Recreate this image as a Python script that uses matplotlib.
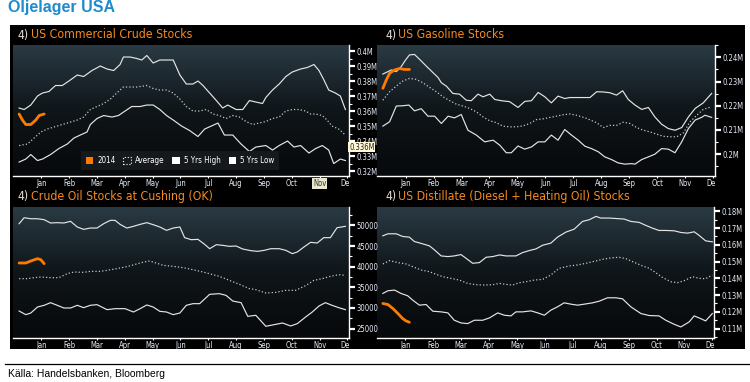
import os
import numpy as np
import matplotlib
matplotlib.use("Agg")
import matplotlib.pyplot as plt
from matplotlib import font_manager
from matplotlib.font_manager import FontProperties
from matplotlib.colors import LinearSegmentedColormap
from matplotlib.lines import Line2D
from matplotlib.patches import Patch, Rectangle
from matplotlib.ticker import MultipleLocator
from matplotlib.transforms import Bbox, TransformedBbox, blended_transform_factory

# %%
# data (x = month, Jan = 1)
months = ['Jan', 'Feb', 'Mar', 'Apr', 'May', 'Jun', 'Jul', 'Aug', 'Sep', 'Oct', 'Nov', 'Dec']
month_pos = [1, 2, 3, 4, 5, 6, 7, 8, 9, 10, 11, 12]
legend_labels = ['2014', 'Average', '5 Yrs High', '5 Yrs Low']

# US commercial crude stocks (M barrels)
crude_hi_x = [0.20, 0.38, 0.62, 0.86, 1.04, 1.27, 1.51, 1.75, 1.99, 2.29, 2.52, 2.82, 3.12, 3.36, 3.60, 3.83, 3.95, 4.19,
              4.43, 4.61, 4.79, 5.02, 5.26, 5.50, 5.74, 5.98, 6.21, 6.45, 6.63, 6.81, 7.05, 7.29, 7.52, 7.70, 8.00, 8.24,
              8.48, 8.71, 8.95, 9.07, 9.31, 9.55, 9.79, 10.02, 10.32, 10.56, 10.80, 10.98, 11.15, 11.33, 11.57, 11.75, 11.93]
crude_hi_y = [0.362, 0.361, 0.364, 0.370, 0.372, 0.373, 0.377, 0.377, 0.380, 0.384, 0.383, 0.387, 0.390, 0.388, 0.387,
              0.391, 0.396, 0.396, 0.395, 0.394, 0.397, 0.392, 0.394, 0.394, 0.394, 0.384, 0.378, 0.378, 0.380, 0.377,
              0.372, 0.367, 0.362, 0.364, 0.361, 0.361, 0.367, 0.366, 0.365, 0.369, 0.374, 0.378, 0.383, 0.386, 0.388,
              0.389, 0.391, 0.387, 0.381, 0.374, 0.372, 0.370, 0.361]
crude_avg_x = [0.20, 0.50, 0.74, 0.98, 1.21, 1.57, 1.93, 2.29, 2.52, 2.76, 3.00, 3.24, 3.48, 3.71, 3.95, 4.19, 4.43, 4.79,
               5.02, 5.26, 5.50, 5.74, 5.98, 6.21, 6.45, 6.69, 6.93, 7.17, 7.40, 7.64, 7.88, 8.12, 8.36, 8.60, 8.83, 9.07,
               9.31, 9.55, 9.79, 10.02, 10.26, 10.50, 10.68, 10.86, 11.10, 11.27, 11.45, 11.69, 11.93]
crude_avg_y = [0.337, 0.338, 0.342, 0.346, 0.348, 0.350, 0.352, 0.354, 0.356, 0.361, 0.363, 0.365, 0.368, 0.372, 0.376,
               0.376, 0.376, 0.377, 0.375, 0.374, 0.374, 0.372, 0.368, 0.363, 0.360, 0.360, 0.361, 0.358, 0.357, 0.355,
               0.357, 0.356, 0.353, 0.351, 0.352, 0.353, 0.355, 0.356, 0.360, 0.361, 0.361, 0.360, 0.358, 0.358, 0.357,
               0.354, 0.350, 0.348, 0.344]
crude_lo_x = [0.20, 0.44, 0.62, 0.86, 1.04, 1.33, 1.63, 1.93, 2.17, 2.40, 2.64, 2.76, 3.00, 3.24, 3.54, 3.77, 4.01, 4.25,
              4.55, 4.79, 5.02, 5.26, 5.50, 5.74, 6.04, 6.33, 6.63, 6.87, 7.11, 7.35, 7.58, 7.88, 8.18, 8.48, 8.71, 9.07,
              9.31, 9.55, 9.85, 10.08, 10.32, 10.62, 10.86, 11.10, 11.33, 11.51, 11.75, 11.93]
crude_lo_y = [0.326, 0.328, 0.331, 0.327, 0.328, 0.331, 0.335, 0.338, 0.342, 0.344, 0.346, 0.351, 0.355, 0.357, 0.356,
              0.357, 0.360, 0.363, 0.363, 0.364, 0.364, 0.361, 0.357, 0.354, 0.350, 0.347, 0.343, 0.348, 0.350, 0.352,
              0.344, 0.344, 0.338, 0.333, 0.336, 0.337, 0.334, 0.337, 0.340, 0.336, 0.337, 0.332, 0.335, 0.337, 0.334,
              0.325, 0.328, 0.327]
crude_14_x = [0.20, 0.32, 0.44, 0.62, 0.80, 0.92, 1.10]
crude_14_y = [0.358, 0.354, 0.351, 0.351, 0.354, 0.357, 0.358]
crude_ticks = [0.32, 0.33, 0.34, 0.35, 0.36, 0.37, 0.38, 0.39, 0.40]
crude_tick_labels = ['0.32M', '0.33M', '0.34M', '0.35M', '0.36M', '0.37M', '0.38M', '0.39M', '0.4M']
crude_last = 0.336

# US gasoline stocks (M barrels)
gas_hi_x = [0.19, 0.37, 0.49, 0.67, 0.84, 1.00, 1.14, 1.32, 1.50, 1.74, 1.98, 2.16, 2.28, 2.46, 2.69, 2.93, 3.17, 3.35,
            3.59, 3.77, 4.01, 4.19, 4.42, 4.72, 5.02, 5.26, 5.50, 5.74, 5.98, 6.21, 6.45, 6.69, 6.87, 7.11, 7.59, 7.83,
            8.07, 8.30, 8.54, 8.76, 8.96, 9.20, 9.44, 9.68, 9.91, 10.15, 10.39, 10.63, 10.87, 11.11, 11.35, 11.64, 11.94]
gas_hi_y = [0.2331, 0.2341, 0.2348, 0.2341, 0.2361, 0.2389, 0.2410, 0.2412, 0.2392, 0.2364, 0.2337, 0.2317, 0.2295,
            0.2281, 0.2251, 0.2248, 0.2223, 0.2221, 0.2248, 0.2237, 0.2248, 0.2226, 0.2221, 0.2217, 0.2193, 0.2218,
            0.2221, 0.2255, 0.2237, 0.2212, 0.2240, 0.2230, 0.2234, 0.2234, 0.2234, 0.2258, 0.2257, 0.2254, 0.2244,
            0.2262, 0.2226, 0.2203, 0.2185, 0.2193, 0.2154, 0.2124, 0.2106, 0.2099, 0.2110, 0.2154, 0.2189, 0.2212,
            0.2251]
gas_avg_x = [0.19, 0.43, 0.67, 0.90, 1.14, 1.38, 1.62, 1.86, 2.10, 2.34, 2.58, 2.81, 3.05, 3.29, 3.53, 3.77, 4.01, 4.25,
             4.48, 4.72, 4.96, 5.20, 5.44, 5.68, 5.92, 6.16, 6.39, 6.63, 6.87, 7.11, 7.47, 7.83, 8.07, 8.30, 8.54, 8.78,
             9.02, 9.26, 9.50, 9.74, 9.97, 10.21, 10.45, 10.69, 10.93, 11.17, 11.41, 11.64, 11.94]
gas_avg_y = [0.2223, 0.2258, 0.2281, 0.2302, 0.2313, 0.2309, 0.2295, 0.2276, 0.2258, 0.2237, 0.2221, 0.2207, 0.2199,
             0.2189, 0.2175, 0.2154, 0.2138, 0.2130, 0.2116, 0.2113, 0.2113, 0.2117, 0.2127, 0.2143, 0.2146, 0.2152,
             0.2157, 0.2163, 0.2166, 0.2161, 0.2148, 0.2130, 0.2110, 0.2119, 0.2119, 0.2132, 0.2127, 0.2110, 0.2099,
             0.2092, 0.2083, 0.2074, 0.2072, 0.2072, 0.2088, 0.2134, 0.2161, 0.2185, 0.2196]
gas_lo_x = [0.19, 0.43, 0.67, 0.90, 1.12, 1.32, 1.56, 1.80, 2.04, 2.28, 2.52, 2.75, 2.99, 3.23, 3.53, 3.83, 4.13, 4.37,
            4.60, 4.78, 5.02, 5.26, 5.50, 5.74, 5.98, 6.21, 6.45, 6.69, 6.93, 7.17, 7.41, 7.65, 7.89, 8.12, 8.36, 8.60,
            8.84, 9.08, 9.20, 9.44, 9.68, 9.91, 10.15, 10.39, 10.63, 10.87, 11.11, 11.35, 11.58, 11.70, 11.94]
gas_lo_y = [0.2116, 0.2134, 0.2199, 0.2200, 0.2203, 0.2179, 0.2188, 0.2157, 0.2157, 0.2127, 0.2157, 0.2150, 0.2164,
            0.2099, 0.2079, 0.2051, 0.2058, 0.2037, 0.2006, 0.2006, 0.2034, 0.2021, 0.2030, 0.2051, 0.2051, 0.2079,
            0.2058, 0.2102, 0.2079, 0.2058, 0.2033, 0.2023, 0.2010, 0.1989, 0.1978, 0.1964, 0.1959, 0.1961, 0.1959,
            0.1978, 0.1989, 0.2000, 0.2023, 0.2021, 0.2006, 0.2051, 0.2106, 0.2141, 0.2152, 0.2161, 0.2152]
gas_14_x = [0.19, 0.31, 0.43, 0.61, 0.79, 0.96, 1.14]
gas_14_y = [0.2272, 0.2306, 0.2334, 0.2348, 0.2354, 0.2350, 0.2350]
gas_ticks = [0.20, 0.21, 0.22, 0.23, 0.24]
gas_tick_labels = ['0.2M', '0.21M', '0.22M', '0.23M', '0.24M']

# crude oil stocks at Cushing (thousand barrels)
cush_hi_x = [0.20, 0.38, 0.62, 0.86, 1.10, 1.33, 1.57, 1.81, 2.05, 2.29, 2.52, 2.76, 3.00, 3.24, 3.48, 3.65, 3.83, 4.07,
             4.31, 4.55, 4.79, 5.02, 5.26, 5.50, 5.74, 5.98, 6.15, 6.39, 6.63, 6.87, 7.05, 7.29, 7.52, 7.76, 8.00, 8.24,
             8.54, 8.77, 9.01, 9.25, 9.55, 9.79, 10.02, 10.20, 10.44, 10.68, 10.92, 11.15, 11.39, 11.63, 11.93]
cush_hi_y = [50400, 51850, 51600, 51600, 51370, 50570, 50650, 50570, 50970, 49600, 49030, 49350, 49350, 50400, 51210,
             51210, 50240, 49350, 49760, 50240, 50650, 50160, 49600, 48790, 49350, 49600, 47020, 46530, 46610, 45400,
             44350, 45320, 45160, 44920, 45000, 44270, 43870, 43710, 43950, 44350, 44350, 43950, 43150, 43550, 44760,
             45890, 45730, 47020, 47020, 49430, 49760]
cush_avg_x = [0.20, 0.50, 0.74, 0.98, 1.33, 1.63, 1.93, 2.17, 2.52, 2.76, 3.12, 3.36, 3.71, 4.01, 4.25, 4.55, 4.85, 5.02,
              5.38, 5.74, 6.10, 6.45, 6.81, 7.17, 7.40, 7.76, 8.12, 8.48, 8.71, 9.07, 9.43, 9.79, 10.14, 10.50, 10.80,
              11.10, 11.39, 11.69, 11.93]
cush_avg_y = [37100, 37100, 37340, 37500, 37340, 37340, 38310, 38710, 38630, 38870, 38870, 39110, 39520, 39920, 40320,
              40890, 41370, 41130, 40320, 40080, 39760, 39270, 38710, 38060, 37660, 36690, 35730, 34680, 34440, 33630,
              33790, 34270, 34270, 35400, 36690, 37100, 37660, 38060, 37900]
cush_lo_x = [0.20, 0.44, 0.62, 0.86, 1.10, 1.33, 1.57, 1.81, 2.05, 2.29, 2.52, 2.76, 3.00, 3.36, 3.65, 4.01, 4.31, 4.55,
             4.79, 5.02, 5.26, 5.50, 5.74, 5.98, 6.21, 6.45, 6.69, 7.05, 7.40, 7.64, 7.88, 8.18, 8.42, 8.71, 9.07, 9.43,
             9.67, 9.96, 10.20, 10.50, 10.74, 10.98, 11.21, 11.45, 11.69, 11.93]
cush_lo_y = [29270, 28390, 28790, 30240, 30650, 31290, 30650, 30000, 30000, 30650, 30080, 30650, 30810, 29600, 29840,
             29840, 29030, 29840, 30730, 30240, 29190, 29030, 28390, 28790, 30650, 31050, 31050, 33310, 33470, 33060,
             31690, 31290, 27980, 28230, 25570, 26050, 26370, 25650, 26210, 27820, 29030, 30480, 31290, 30650, 30080,
             29600]
cush_14_x = [0.20, 0.44, 0.62, 0.86, 0.98, 1.10]
cush_14_y = [40890, 40890, 41370, 41940, 41690, 40730]
cush_ticks = [25000, 30000, 35000, 40000, 45000, 50000]
cush_tick_labels = ['25000', '30000', '35000', '40000', '45000', '50000']

# US distillate stocks (M barrels)
dist_hi_x = [0.19, 0.37, 0.67, 0.90, 1.14, 1.32, 1.62, 1.86, 2.04, 2.28, 2.52, 2.75, 2.99, 3.17, 3.41, 3.65, 3.89, 4.13,
             4.37, 4.60, 4.96, 5.20, 5.44, 5.68, 5.92, 6.21, 6.45, 6.75, 7.05, 7.35, 7.59, 7.83, 8.00, 8.30, 8.66, 8.84,
             9.08, 9.38, 9.62, 9.85, 10.09, 10.33, 10.63, 10.87, 11.11, 11.35, 11.53, 11.76, 12.00]
dist_hi_y = [0.1654, 0.1666, 0.1666, 0.1650, 0.1646, 0.1620, 0.1606, 0.1594, 0.1570, 0.1534, 0.1530, 0.1534, 0.1542,
             0.1520, 0.1490, 0.1494, 0.1526, 0.1530, 0.1540, 0.1534, 0.1534, 0.1554, 0.1566, 0.1576, 0.1598, 0.1610,
             0.1646, 0.1676, 0.1694, 0.1740, 0.1750, 0.1770, 0.1760, 0.1760, 0.1756, 0.1754, 0.1740, 0.1734, 0.1716,
             0.1700, 0.1686, 0.1686, 0.1684, 0.1674, 0.1670, 0.1678, 0.1656, 0.1624, 0.1618]
dist_avg_x = [0.19, 0.43, 0.73, 1.02, 1.26, 1.56, 1.86, 2.10, 2.34, 2.63, 2.93, 3.23, 3.53, 3.83, 4.13, 4.37, 4.60, 4.84,
              5.08, 5.32, 5.62, 5.92, 6.21, 6.51, 6.87, 7.17, 7.47, 7.83, 8.07, 8.36, 8.66, 8.90, 9.14, 9.50, 9.74, 9.97,
              10.21, 10.51, 10.75, 10.99, 11.29, 11.53, 11.76, 12.00]
dist_avg_y = [0.1486, 0.1506, 0.1494, 0.1486, 0.1470, 0.1450, 0.1440, 0.1424, 0.1410, 0.1400, 0.1390, 0.1370, 0.1362,
              0.1360, 0.1362, 0.1370, 0.1364, 0.1360, 0.1374, 0.1380, 0.1390, 0.1394, 0.1420, 0.1460, 0.1474, 0.1480,
              0.1490, 0.1504, 0.1514, 0.1522, 0.1526, 0.1518, 0.1500, 0.1474, 0.1460, 0.1434, 0.1406, 0.1380, 0.1374,
              0.1386, 0.1410, 0.1400, 0.1398, 0.1420]
dist_lo_x = [0.19, 0.37, 0.61, 0.84, 1.08, 1.26, 1.50, 1.74, 1.98, 2.28, 2.52, 2.75, 2.99, 3.23, 3.47, 3.77, 4.01, 4.31,
             4.54, 4.78, 4.96, 5.20, 5.50, 5.74, 5.98, 6.21, 6.45, 6.69, 6.93, 7.17, 7.41, 7.71, 7.95, 8.24, 8.54, 8.78,
             9.08, 9.44, 9.74, 10.09, 10.33, 10.63, 10.87, 11.17, 11.35, 11.58, 11.76, 12.00]
dist_lo_y = [0.1310, 0.1326, 0.1330, 0.1310, 0.1296, 0.1270, 0.1240, 0.1244, 0.1204, 0.1200, 0.1194, 0.1150, 0.1134,
             0.1130, 0.1150, 0.1150, 0.1164, 0.1194, 0.1180, 0.1176, 0.1200, 0.1200, 0.1206, 0.1194, 0.1180, 0.1210,
             0.1230, 0.1254, 0.1246, 0.1240, 0.1246, 0.1254, 0.1264, 0.1284, 0.1284, 0.1278, 0.1230, 0.1190, 0.1178,
             0.1176, 0.1150, 0.1126, 0.1110, 0.1140, 0.1176, 0.1160, 0.1146, 0.1190]
dist_14_x = [0.19, 0.37, 0.55, 0.73, 0.90, 1.02, 1.14]
dist_14_y = [0.1250, 0.1244, 0.1220, 0.1190, 0.1160, 0.1146, 0.1138]
dist_ticks = [0.11, 0.12, 0.13, 0.14, 0.15, 0.16, 0.17, 0.18]
dist_tick_labels = ['0.11M', '0.12M', '0.13M', '0.14M', '0.15M', '0.16M', '0.17M', '0.18M']

# %%
W, H = 750, 382

# the terminal uses a narrow face; take whatever condensed font is installed
narrow_file = None
for want in ['LiberationSansNarrow-Regular', 'DejaVuSansCondensed.', 'NotoSans-Condensed.', 'NotoSans-CondensedRegular',
             'Roboto_Condensed-Regular', 'RobotoCondensed-Regular', 'OpenSans_Condensed-Regular']:
    hits = [f.fname for f in font_manager.fontManager.ttflist if want in os.path.basename(f.fname)]
    if hits:
        narrow_file = hits[0]
        break


def nfont(size):
    if narrow_file:
        return FontProperties(fname=narrow_file, size=size)
    return FontProperties(family='DejaVu Sans', stretch='condensed', size=size * 0.85)


SANS = 'Liberation Sans'
ORANGE = '#ff7b00'
TITLE_ORANGE = '#f58a1f'
LINE = '#e4e4e4'
TICK_TXT = '#e6eefa'
TICK_SIZE = 5.5

bg_cmap = LinearSegmentedColormap.from_list('bbg', ['#07090b', '#0f1519', '#2a3a44'])
grad = np.linspace(1, 0, 256).reshape(-1, 1)


def px_rect(left, top, right, bottom):
    return [left / W, 1 - bottom / H, (right - left) / W, (bottom - top) / H]


fig = plt.figure(figsize=(W / 100, H / 100), dpi=100, facecolor='white')

# black terminal frame behind the four panels
fig.patches.append(Rectangle((10 / W, 1 - 349 / H), 735 / W, 324 / H, transform=fig.transFigure,
                             facecolor='black', edgecolor='none', zorder=-5))


def panel(box, title, tpos, hi, avg, lo, cur, ylim, ticks, tick_labels, minor, z):
    ax = fig.add_axes(px_rect(*box))
    ax.set_zorder(z)
    ax.imshow(grad, extent=[0, 1, 0, 1], transform=ax.transAxes, aspect='auto', cmap=bg_cmap, zorder=0)
    ax.plot(hi[0], hi[1], color=LINE, lw=0.85, zorder=3)
    ax.plot(lo[0], lo[1], color=LINE, lw=0.85, zorder=3)
    ax.plot(avg[0], avg[1], color='#c8c8c8', lw=0.9, ls=(0, (1, 1.7)), zorder=3)
    ax.plot(cur[0], cur[1], color=ORANGE, lw=2.0, zorder=4, solid_capstyle='round')
    ax.set_xlim(-0.02, 12.06)
    ax.set_ylim(*ylim)

    for s in ['top', 'left']:
        ax.spines[s].set_visible(False)
    for s in ['bottom', 'right']:
        ax.spines[s].set_color('white')
        ax.spines[s].set_linewidth(1.0)

    ax.set_xticks(month_pos, months)
    ax.yaxis.tick_right()
    ax.set_yticks(ticks, tick_labels)
    ax.yaxis.set_minor_locator(MultipleLocator(minor))
    ax.tick_params(axis='x', colors='white', length=1.5, width=0.8, pad=0.5, labelcolor=TICK_TXT)
    ax.tick_params(axis='y', which='major', colors='white', length=4, width=1.6, pad=1.5, labelcolor=TICK_TXT)
    ax.tick_params(axis='y', which='minor', colors='white', length=2.5, width=0.8)
    for lbl in ax.get_xticklabels() + ax.get_yticklabels():
        lbl.set_fontproperties(nfont(TICK_SIZE))

    # month labels get cut at the right edge of the plot, like the terminal does
    clip = TransformedBbox(Bbox([[0, -0.3], [1, 0.0]]), ax.transAxes)
    for lbl in ax.get_xticklabels():
        lbl.set_clip_box(clip)
        lbl.set_clip_on(True)

    x0, y0 = tpos
    fig.text(x0 / W, 1 - y0 / H, '4)', color='#e8e0d8', fontproperties=nfont(8.8), va='center')
    fig.text((x0 + 13) / W, 1 - y0 / H, title, color=TITLE_ORANGE, fontproperties=nfont(8.8), va='center')
    return ax


ax1 = panel((13, 45, 349, 176), 'US Commercial Crude Stocks', (18, 35),
            (crude_hi_x, crude_hi_y), (crude_avg_x, crude_avg_y), (crude_lo_x, crude_lo_y), (crude_14_x, crude_14_y),
            (0.3167, 0.404), crude_ticks, crude_tick_labels, 0.005, 2)
ax2 = panel((377, 45, 715, 176), 'US Gasoline Stocks', (385, 35),
            (gas_hi_x, gas_hi_y), (gas_avg_x, gas_avg_y), (gas_lo_x, gas_lo_y), (gas_14_x, gas_14_y),
            (0.191, 0.2451), gas_ticks, gas_tick_labels, 0.005, 1)
ax3 = panel((13, 207, 349, 338), 'Crude Oil Stocks at Cushing (OK)', (18, 197),
            (cush_hi_x, cush_hi_y), (cush_avg_x, cush_avg_y), (cush_lo_x, cush_lo_y), (cush_14_x, cush_14_y),
            (22740, 54440), cush_ticks, cush_tick_labels, 2500, 2)
ax4 = panel((377, 207, 714, 338), 'US Distillate (Diesel + Heating Oil) Stocks', (385, 197),
            (dist_hi_x, dist_hi_y), (dist_avg_x, dist_avg_y), (dist_lo_x, dist_lo_y), (dist_14_x, dist_14_y),
            (0.1044, 0.1826), dist_ticks, dist_tick_labels, 0.005, 1)

# legend + cursor tags only on the crude panel
handles = [Patch(facecolor=ORANGE, edgecolor='none'),
           Patch(facecolor='none', edgecolor='white', linestyle=':', linewidth=0.8),
           Patch(facecolor='white', edgecolor='none'),
           Patch(facecolor='white', edgecolor='none')]
leg = ax1.legend(handles, legend_labels, loc='lower center', bbox_to_anchor=(0.497, 0.015), ncol=4,
                 prop=nfont(5.8), frameon=True, fancybox=False, facecolor='#15191c',
                 edgecolor='none', framealpha=1, handlelength=0.9, handleheight=0.9, handletextpad=0.5,
                 columnspacing=1.0, borderpad=0.6, labelcolor='white')
leg.set_zorder(5)

ax1.text(1.0, crude_last, f'{crude_last:.3f}M', transform=blended_transform_factory(ax1.transAxes, ax1.transData),
         ha='left', va='center', fontproperties=nfont(TICK_SIZE), color='#222222', clip_on=False, zorder=6,
         bbox=dict(facecolor='#fff7d6', edgecolor='none', pad=0.6))
nov = ax1.get_xticklabels()[10]
nov.set_color('#333333')
nov.set_bbox(dict(facecolor='#ebe7cf', edgecolor='none', pad=0.6))

# page title and source line
fig.text(8 / W, 1 - 0.0 / H, 'Oljelager USA', color='#1e8bcd', fontsize=11.5, weight='bold', family=SANS, va='top')
fig.add_artist(Line2D([5 / W, 1.0], [1 - 364 / H, 1 - 364 / H], color='black', lw=0.9, transform=fig.transFigure))
fig.text(8 / W, 1 - 374 / H, 'Källa: Handelsbanken, Bloomberg', color='black', fontsize=7.5, family=SANS, va='center')

fig.savefig('out.png', dpi=100, facecolor=fig.get_facecolor())
